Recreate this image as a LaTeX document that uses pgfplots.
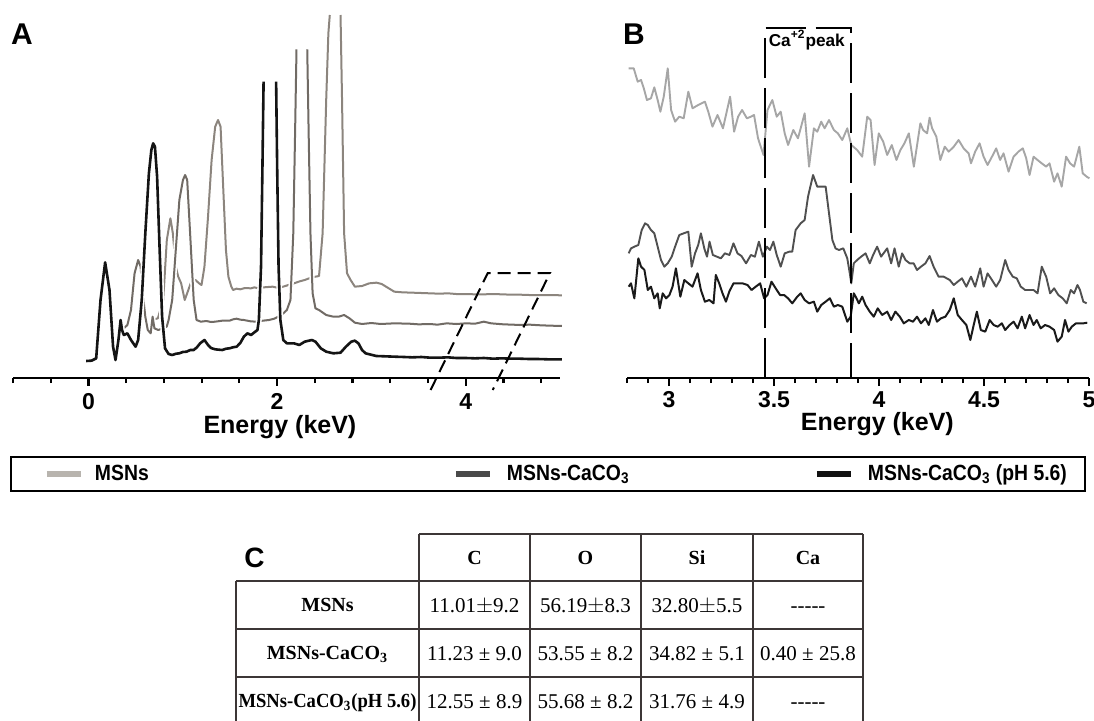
\documentclass[border=0pt]{standalone}
\usepackage{fontspec}
\setmainfont{Liberation Sans}
\newfontfamily\serifont{Liberation Serif}
\newfontfamily\narrowfont[FakeStretch=0.88]{Liberation Sans}
\usepackage{pgfplots}
\pgfplotsset{compat=1.18}
\definecolor{aTop}{HTML}{8C857E}
\definecolor{aMid}{HTML}{716B65}
\definecolor{aBlk}{HTML}{141414}
\definecolor{bTop}{HTML}{A6A6A6}
\definecolor{bMid}{HTML}{505050}
\definecolor{bBlk}{HTML}{1A1A1A}
\definecolor{legA}{HTML}{B8B4AE}
\definecolor{legB}{HTML}{4A4A4A}
\definecolor{legC}{HTML}{111111}
\definecolor{tabline}{HTML}{3C3636}
\begin{document}
\begin{tikzpicture}
\path[use as bounding box] (0pt,0pt) rectangle (547pt,360pt);
% ---------------- Panel A ----------------
\begin{axis}[
 at={(6.5pt,171pt)}, anchor=south west,
 width=273.5pt, height=189pt, scale only axis,
 xmin=-0.8, xmax=5.0, ymin=0, ymax=1134,
 axis x line=bottom, axis y line=none,
 axis line style={-, line width=1.3pt, black},
 xtick={0,2,4}, xticklabels={0,2,4},
 minor xtick={-0.8,-0.4,0.4,0.8,1.2,1.6,2.4,2.8,3.2,3.6,4.4,4.8},
 tick align=outside, major tick length=3.8pt, minor tick length=2.6pt,
 tick style={black, line width=1.1pt},
 xticklabel style={font=\bfseries\fontsize{11.5}{13}\selectfont, anchor=base, yshift=-12.1pt},
 xlabel={Energy (keV)},
 xlabel style={font=\bfseries\fontsize{12.5}{14}\selectfont, at={(axis description cs:0.488,0)}, anchor=base, yshift=-27.5pt},
 clip=false, unbounded coords=jump,
 legend style={at={(axis description cs:-0.0055,-0.254)}, anchor=west, draw=black, line width=1pt,
   inner xsep=16.5pt, inner ysep=4pt, font=\narrowfont\bfseries\fontsize{11}{13}\selectfont,
   nodes={inner sep=0pt}, /tikz/every even column/.style={column sep=0pt}},
 legend columns=3, legend cell align=left,
 legend image code/.code={\draw[#1, line width=3pt, line cap=butt] (0pt,0pt) -- (17pt,0pt);},
]
\addlegendimage{legA}
\addlegendentry{\hspace*{5.5pt}\makebox[179pt][l]{MSNs}}
\addlegendimage{legB}
\addlegendentry{\hspace*{7pt}\makebox[153.5pt][l]{MSNs-CaCO\textsubscript{3}}}
\addlegendimage{legC}
\addlegendentry{\hspace*{7pt}\makebox[92pt][l]{MSNs-CaCO\textsubscript{3} (pH 5.6)}}
% MSNs (back)
\addplot[forget plot, aTop, line width=1pt, line join=round] coordinates {
(0.667,174) (0.736,179) (0.793,234) (0.831,414) (0.869,479) (0.895,434) (0.926,334) (0.952,304)
(0.983,284) (1.021,234) (1.059,264) (1.097,294) (1.135,294) (1.173,284) (1.199,279) (1.230,334)
(1.268,484) (1.306,654) (1.344,754) (1.374,774) (1.401,754) (1.427,584) (1.458,384) (1.484,304)
(1.515,274) (1.534,264) (1.57,268) (1.610,266) (1.66,270) (1.724,269) (1.76,272) (1.800,269) (1.86,272)
(1.952,274) (2.0,271) (2.066,274) (2.12,279) (2.180,284) (2.24,290) (2.293,294) (2.369,302) (2.407,304)
(2.445,306) (2.483,434) (2.521,834) (2.544,1034) (2.559,1089) (2.62,nan) (2.673,1089) (2.689,834)
(2.711,434) (2.742,314) (2.780,294) (2.825,274) (2.901,276) (2.977,284) (3.053,286) (3.110,282)
(3.167,272) (3.243,259) (3.33,257) (3.433,256) (3.53,255) (3.623,254) (3.72,253) (3.813,254) (3.9,252)
(4.003,252) (4.1,251) (4.193,251) (4.29,252) (4.383,251) (4.48,250) (4.573,250) (4.67,249) (4.763,249)
(4.88,249) (5.021,248)};
% MSNs-CaCO3 (middle)
\addplot[forget plot, aMid, line width=1pt, line join=round, preaction={draw=white, line width=2.6pt}] coordinates {
(0.375,149) (0.413,159) (0.451,204) (0.489,314) (0.527,354) (0.553,334) (0.576,254) (0.603,184)
(0.629,144) (0.66,134) (0.68,184) (0.70,149) (0.74,144) (0.79,149) (0.83,154) (0.850,174) (0.888,234)
(0.926,384) (0.964,534) (1.002,594) (1.025,609) (1.047,594) (1.078,434) (1.116,234) (1.146,174)
(1.192,169) (1.25,171) (1.30,168) (1.344,169) (1.42,172) (1.496,172) (1.534,176) (1.57,178) (1.61,175)
(1.648,174) (1.72,170) (1.781,169) (1.85,172) (1.914,174) (1.97,178) (2.02,185) (2.066,194) (2.104,204)
(2.142,234) (2.172,434) (2.191,734) (2.206,986) (2.26,nan) (2.320,986) (2.335,734) (2.354,434)
(2.377,254) (2.407,209) (2.445,204) (2.521,189) (2.597,184) (2.654,184) (2.711,189) (2.768,179)
(2.825,166) (2.901,162) (3.0,165) (3.1,162) (3.243,164) (3.4,163) (3.5,161) (3.623,162) (3.7,160)
(3.8,164) (3.9,162) (4.003,164) (4.1,163) (4.193,169) (4.269,164) (4.4,161) (4.5,160) (4.573,159)
(4.68,160) (4.8,158) (4.9,157) (5.021,156)};
% MSNs-CaCO3 (pH 5.6) (front)
\addplot[forget plot, aBlk, line width=1.3pt, line join=round, preaction={draw=white, line width=2.9pt}] coordinates {
(-0.024,51) (0.033,52) (0.082,59) (0.128,234) (0.177,347) (0.223,264) (0.261,94) (0.287,54)
(0.318,114) (0.341,174) (0.356,144) (0.375,129) (0.413,134) (0.451,114) (0.500,94) (0.527,114)
(0.565,234) (0.603,434) (0.641,614) (0.667,684) (0.686,704) (0.705,694) (0.728,604) (0.755,384)
(0.781,184) (0.812,89) (0.85,72) (0.888,69) (0.93,73) (0.964,74) (1.0,78) (1.040,79) (1.08,84)
(1.116,84) (1.15,92) (1.184,104) (1.230,114) (1.268,99) (1.30,90) (1.344,86) (1.38,85) (1.420,84)
(1.46,88) (1.496,89) (1.53,92) (1.572,94) (1.61,105) (1.648,124) (1.686,134) (1.724,129) (1.769,139)
(1.792,144) (1.807,174) (1.830,334) (1.845,634) (1.857,889) (1.92,nan) (1.990,889) (2.001,634)
(2.016,334) (2.035,174) (2.066,114) (2.104,104) (2.180,104) (2.236,99) (2.293,109) (2.369,114)
(2.407,109) (2.464,89) (2.521,79) (2.597,74) (2.673,76) (2.730,94) (2.787,109) (2.825,112) (2.863,104)
(2.901,84) (2.939,74) (3.053,66) (3.15,65) (3.243,64) (3.35,63) (3.433,62) (3.53,63) (3.623,61)
(3.72,61) (3.813,62) (3.9,60) (4.003,60) (4.1,59) (4.193,60) (4.29,58) (4.383,59) (4.48,58)
(4.573,58) (4.67,57) (4.763,57) (4.88,56) (5.021,56)};
% zoom window
\addplot[forget plot, black, line width=1pt, dash pattern=on 6.5pt off 3.5pt] coordinates {
(3.628,-36) (4.234,315) (4.894,315) (4.287,-36)};
\end{axis}
% ---------------- Panel B ----------------
\begin{axis}[
 at={(313.5pt,171pt)}, anchor=south west,
 width=231pt, height=189pt, scale only axis,
 xmin=2.8, xmax=5.0, ymin=0, ymax=1134,
 axis x line=bottom, axis y line=none,
 axis line style={-, line width=0.9pt, black},
 xtick={3,3.5,4,4.5,5}, xticklabels={3,3.5,4,4.5,5},
 minor xtick={2.8,2.9,3.1,3.2,3.3,3.4,3.6,3.7,3.8,3.9,4.1,4.2,4.3,4.4,4.6,4.7,4.8,4.9},
 tick align=outside, major tick length=4pt, minor tick length=2.5pt,
 tick style={black, line width=0.9pt},
 xticklabel style={font=\bfseries\fontsize{11.5}{13}\selectfont, anchor=base, yshift=-10.65pt},
 xlabel={Energy (keV)},
 xlabel style={font=\bfseries\fontsize{12.5}{14}\selectfont, at={(axis description cs:0.542,0)}, anchor=base, yshift=-26pt},
 clip=false,
]
\addplot[bTop, line width=0.95pt, line join=round] coordinates {
(2.808,929) (2.832,929) (2.851,889) (2.867,894) (2.880,869) (2.895,834) (2.914,839) (2.930,872) (2.946,834)
(2.959,799) (2.975,844) (2.994,929) (3.010,804) (3.029,769) (3.049,784) (3.070,779) (3.092,859) (3.112,809)
(3.139,819) (3.171,829) (3.187,799) (3.207,754) (3.231,789) (3.257,749) (3.291,844) (3.310,739) (3.329,784)
(3.348,804) (3.371,779) (3.390,784) (3.405,789) (3.424,719) (3.450,669) (3.469,804) (3.492,834) (3.513,784)
(3.532,799) (3.551,734) (3.567,699) (3.592,744) (3.614,719) (3.627,749) (3.646,794) (3.667,634) (3.690,749)
(3.706,739) (3.725,769) (3.741,749) (3.762,774) (3.785,744) (3.804,734) (3.825,714) (3.849,749) (3.868,699)
(3.896,684) (3.920,664) (3.944,784) (3.960,774) (3.979,639) (3.999,734) (4.020,709) (4.039,669) (4.061,699)
(4.083,654) (4.102,684) (4.121,704) (4.142,734) (4.166,634) (4.185,714) (4.197,764) (4.210,744) (4.229,734)
(4.241,781) (4.253,749) (4.273,724) (4.292,654) (4.313,694) (4.332,679) (4.356,694) (4.379,714) (4.403,689)
(4.427,674) (4.438,644) (4.458,679) (4.479,704) (4.498,664) (4.517,639) (4.538,664) (4.558,689) (4.577,654)
(4.593,674) (4.617,619) (4.641,664) (4.664,679) (4.685,689) (4.701,659) (4.717,609) (4.736,664) (4.755,654)
(4.775,644) (4.796,634) (4.812,644) (4.834,589) (4.850,614) (4.870,574) (4.891,664) (4.910,644) (4.929,634)
(4.954,694) (4.970,614) (4.989,604) (5.002,599)};
\addplot[bMid, line width=0.95pt, line join=round] coordinates {
(2.808,374) (2.819,389) (2.835,394) (2.854,399) (2.870,444) (2.886,464) (2.899,459) (2.914,444) (2.930,434)
(2.946,394) (2.962,354) (2.978,334) (2.994,344) (3.013,364) (3.029,394) (3.049,429) (3.070,434) (3.092,439)
(3.108,334) (3.124,374) (3.139,399) (3.152,434) (3.168,389) (3.181,364) (3.193,409) (3.209,369) (3.228,364)
(3.247,359) (3.266,374) (3.288,369) (3.307,404) (3.326,374) (3.345,366) (3.367,344) (3.390,369) (3.409,364)
(3.428,409) (3.447,364) (3.466,394) (3.481,384) (3.497,409) (3.513,369) (3.532,334) (3.551,374) (3.573,379)
(3.587,379) (3.603,444) (3.627,464) (3.646,474) (3.662,544) (3.686,609) (3.706,574) (3.727,574) (3.746,574)
(3.762,494) (3.778,414) (3.793,389) (3.809,384) (3.830,389) (3.849,359) (3.861,314) (3.868,284) (3.880,344)
(3.896,354) (3.915,364) (3.936,374) (3.956,344) (3.972,369) (3.991,394) (4.010,364) (4.039,389) (4.058,344)
(4.074,389) (4.094,334) (4.110,374) (4.126,354) (4.146,344) (4.165,344) (4.181,324) (4.200,334) (4.221,344)
(4.241,366) (4.260,334) (4.284,304) (4.308,304) (4.337,294) (4.356,279) (4.375,289) (4.395,299) (4.416,274)
(4.438,304) (4.458,274) (4.482,329) (4.498,274) (4.517,314) (4.538,294) (4.558,274) (4.577,294) (4.601,354)
(4.617,324) (4.637,304) (4.656,299) (4.675,274) (4.696,264) (4.717,264) (4.736,264) (4.755,254) (4.775,334)
(4.796,304) (4.815,254) (4.834,269) (4.854,249) (4.875,239) (4.894,224) (4.913,264) (4.929,254) (4.945,279)
(4.957,264) (4.973,229) (4.989,224)};
\addplot[bBlk, line width=1pt, line join=round] coordinates {
(2.808,274) (2.819,284) (2.835,239) (2.854,359) (2.867,334) (2.883,324) (2.899,264) (2.914,274) (2.930,239)
(2.946,254) (2.956,209) (2.970,254) (2.986,239) (3.002,249) (3.017,274) (3.033,329) (3.054,244) (3.073,294)
(3.092,284) (3.112,274) (3.136,314) (3.152,264) (3.171,229) (3.192,234) (3.212,224) (3.223,309) (3.239,284)
(3.255,254) (3.271,229) (3.287,259) (3.307,284) (3.326,284) (3.350,284) (3.374,279) (3.393,264) (3.413,274)
(3.434,284) (3.453,239) (3.469,249) (3.488,289) (3.508,269) (3.529,249) (3.548,249) (3.567,239) (3.587,224)
(3.611,244) (3.627,254) (3.646,234) (3.667,224) (3.690,229) (3.706,199) (3.725,219) (3.746,229) (3.766,239)
(3.785,214) (3.804,219) (3.825,214) (3.849,169) (3.865,184) (3.880,254) (3.893,239) (3.904,224) (3.920,244)
(3.936,219) (3.956,199) (3.975,184) (3.994,209) (4.015,189) (4.039,199) (4.058,174) (4.078,199) (4.099,184)
(4.118,164) (4.142,174) (4.162,169) (4.181,184) (4.200,164) (4.221,179) (4.237,159) (4.257,204) (4.276,169)
(4.295,179) (4.316,184) (4.337,204) (4.356,239) (4.375,189) (4.395,174) (4.416,159) (4.435,114) (4.451,159)
(4.466,199) (4.485,144) (4.506,139) (4.527,174) (4.546,159) (4.565,154) (4.585,164) (4.601,144) (4.622,159)
(4.641,169) (4.660,149) (4.680,184) (4.696,149) (4.717,189) (4.736,159) (4.751,174) (4.770,149) (4.791,159)
(4.812,154) (4.834,144) (4.850,109) (4.870,124) (4.886,174) (4.902,139) (4.918,154) (4.938,164) (4.957,164)
(4.973,164) (4.992,166)};
\addplot[black, line width=1pt, dash pattern=on 20pt off 5pt] coordinates {
(3.458,0) (3.458,1049) (3.865,1049) (3.865,0)};
\node[font=\bfseries\fontsize{8.6}{10}\selectfont] at (axis cs:3.656,1014) {Ca\textsuperscript{+2}peak};
\end{axis}
% ---------------- Panel labels ----------------
\node[font=\bfseries\fontsize{15}{17}\selectfont] at (11pt,343pt) {A};
\node[font=\bfseries\fontsize{15}{17}\selectfont] at (317pt,343pt) {B};
\node[font=\bfseries\fontsize{14}{16}\selectfont] at (127.25pt,81pt) {C};
% ---------------- Panel C table ----------------
\begin{scope}[tabline, line width=0.75pt]
\draw (209.5pt,93pt) -- (431.5pt,93pt);
\draw (118pt,69.5pt) -- (431.5pt,69.5pt);
\draw (118pt,45.5pt) -- (431.5pt,45.5pt);
\draw (118pt,21.5pt) -- (431.5pt,21.5pt);
\draw (118pt,69.5pt) -- (118pt,-1pt);
\foreach \xx in {209.5,265,320.5,376.5,431.5} {\draw (\xx pt,93pt) -- (\xx pt,-1pt);}
\end{scope}
\begin{scope}[every node/.style={anchor=base, inner sep=0pt, text=black}]
\node[font=\serifont\bfseries\fontsize{10}{12}\selectfont] at (237.25pt,78pt) {C};
\node[font=\serifont\bfseries\fontsize{10}{12}\selectfont] at (292.75pt,78pt) {O};
\node[font=\serifont\bfseries\fontsize{10}{12}\selectfont] at (348.5pt,78pt) {Si};
\node[font=\serifont\bfseries\fontsize{10}{12}\selectfont] at (404pt,78pt) {Ca};
\node[font=\serifont\bfseries\fontsize{10}{12}\selectfont] at (163.75pt,54.2pt) {MSNs};
\node[font=\serifont\bfseries\fontsize{10}{12}\selectfont] at (163.75pt,30.2pt) {MSNs-CaCO\textsubscript{3}};
\node[font=\serifont\bfseries\fontsize{10}{12}\selectfont] at (163.75pt,6.2pt) {\scalebox{0.93}[1]{MSNs-CaCO\textsubscript{3}(pH 5.6)}};
\node[font=\serifont\fontsize{10.5}{12}\selectfont] at (237.25pt,53.9pt) {11.01$\pm$9.2};
\node[font=\serifont\fontsize{10.5}{12}\selectfont] at (292.75pt,53.9pt) {56.19$\pm$8.3};
\node[font=\serifont\fontsize{10.5}{12}\selectfont] at (348.5pt,53.9pt) {32.80$\pm$5.5};
\node[font=\serifont\fontsize{10.5}{12}\selectfont] at (404pt,53.9pt) {-{}-{}-{}-{}-};
\node[font=\serifont\fontsize{10.5}{12}\selectfont] at (237.25pt,29.9pt) {11.23 ± 9.0};
\node[font=\serifont\fontsize{10.5}{12}\selectfont] at (292.75pt,29.9pt) {53.55 ± 8.2};
\node[font=\serifont\fontsize{10.5}{12}\selectfont] at (348.5pt,29.9pt) {34.82 ± 5.1};
\node[font=\serifont\fontsize{10.5}{12}\selectfont] at (404pt,29.9pt) {0.40 ± 25.8};
\node[font=\serifont\fontsize{10.5}{12}\selectfont] at (237.25pt,5.9pt) {12.55 ± 8.9};
\node[font=\serifont\fontsize{10.5}{12}\selectfont] at (292.75pt,5.9pt) {55.68 ± 8.2};
\node[font=\serifont\fontsize{10.5}{12}\selectfont] at (348.5pt,5.9pt) {31.76 ± 4.9};
\node[font=\serifont\fontsize{10.5}{12}\selectfont] at (404pt,5.9pt) {-{}-{}-{}-{}-};
\end{scope}
\end{tikzpicture}
\end{document}
